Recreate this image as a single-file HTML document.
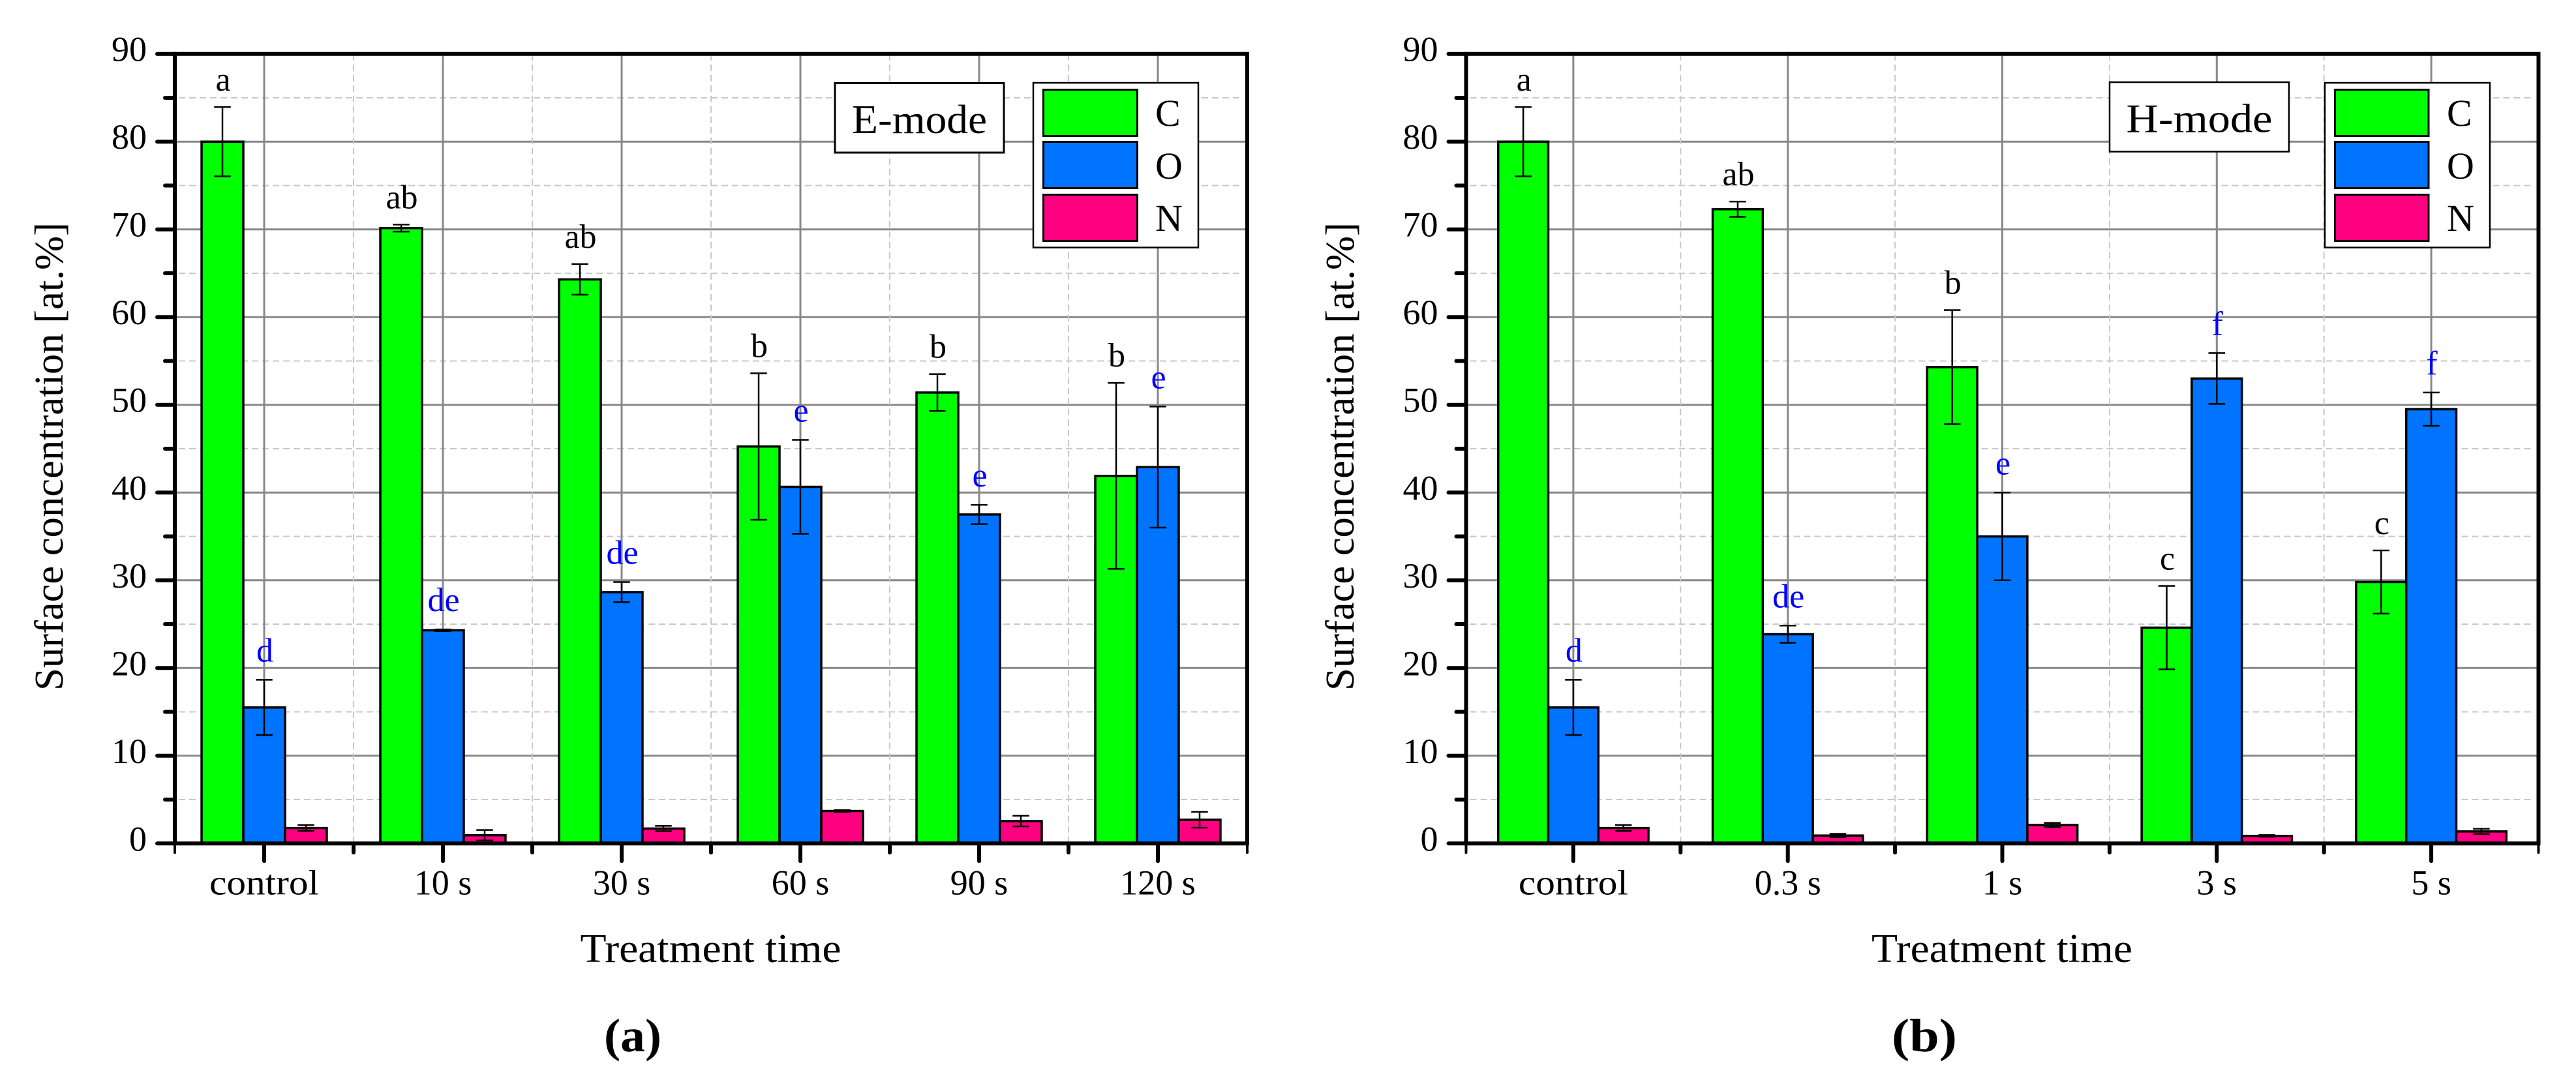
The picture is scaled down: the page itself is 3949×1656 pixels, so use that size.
<!DOCTYPE html>
<html lang="en">
<head>
<meta charset="utf-8">
<title>Surface concentration vs treatment time</title>
<style>
html,body{margin:0;padding:0;background:#fff;}
svg{display:block;}
text{font-family:"Liberation Serif",serif;fill:#000;}
</style>
</head>
<body>
<svg id="figure" xmlns="http://www.w3.org/2000/svg" width="3949" height="1656" viewBox="0 0 3949 1656">
  <rect x="0" y="0" width="3949" height="1656" fill="#fff"/>

  <g id="panel-a"></g>
  <g>
    <rect x="1280" y="127.5" width="259" height="106.5" fill="#fff" stroke="#000" stroke-width="3"/>
    <text x="1306" y="204" font-size="62" textLength="207" lengthAdjust="spacingAndGlyphs">E-mode</text>
  </g>
  <g>
    <rect x="1584" y="127" width="253" height="252.5" fill="#fff" stroke="#000" stroke-width="2.5"/>
    <rect x="1599.5" y="137.5" width="144" height="71" fill="#00ff00" stroke="#000" stroke-width="3"/>
    <rect x="1599.5" y="217.5" width="144" height="71" fill="#0073ff" stroke="#000" stroke-width="3"/>
    <rect x="1599.5" y="298.5" width="144" height="71" fill="#ff0080" stroke="#000" stroke-width="3"/>
    <text x="1771" y="193" font-size="58">C</text>
    <text x="1771" y="274" font-size="58">O</text>
    <text x="1771" y="354" font-size="58">N</text>
  </g>

  <g id="panel-b"></g>
  <g>
    <rect x="3234" y="126" width="275" height="106.5" fill="#fff" stroke="#000" stroke-width="2.5"/>
    <text x="3259.5" y="202.5" font-size="62" textLength="224" lengthAdjust="spacingAndGlyphs">H-mode</text>
  </g>
  <g>
    <rect x="3564" y="127" width="253" height="252.5" fill="#fff" stroke="#000" stroke-width="2.5"/>
    <rect x="3579.5" y="137.5" width="143.5" height="71" fill="#00ff00" stroke="#000" stroke-width="3"/>
    <rect x="3579.5" y="217.5" width="143.5" height="71" fill="#0073ff" stroke="#000" stroke-width="3"/>
    <rect x="3579.5" y="298.5" width="143.5" height="71" fill="#ff0080" stroke="#000" stroke-width="3"/>
    <text x="3751" y="193" font-size="58">C</text>
    <text x="3751" y="274" font-size="58">O</text>
    <text x="3751" y="354" font-size="58">N</text>
  </g>

  <text x="926" y="1612" font-size="72" font-weight="bold" textLength="88" lengthAdjust="spacingAndGlyphs">(a)</text>
  <text x="2900" y="1612" font-size="72" font-weight="bold" textLength="100" lengthAdjust="spacingAndGlyphs">(b)</text>
</svg>

<script>
// Shared axis values
const yMajorTicks = [0, 10, 20, 30, 40, 50, 60, 70, 80, 90];
const yMinorTicks = [5, 15, 25, 35, 45, 55, 65, 75, 85];
const seriesNames = ['c', 'o', 'n'];

// Panel (a) E-mode
const categoriesA = ['control', '10 s', '30 s', '60 s', '90 s', '120 s'];
const carbonA = [80.0, 70.15, 64.3, 45.25, 51.4, 41.9];
const oxygenA = [15.5, 24.3, 28.65, 40.65, 37.5, 42.9];
const nitrogenA = [1.76, 0.94, 1.7, 3.7, 2.55, 2.7];
const carbonErrorA = [3.95, 0.4, 1.75, 8.35, 2.1, 10.6];
const oxygenErrorA = [3.15, 0.1, 1.15, 5.35, 1.1, 6.9];
const nitrogenErrorA = [0.33, 0.6, 0.3, 0.1, 0.6, 0.9];
const carbonLettersA = ['a', 'ab', 'ab', 'b', 'b', 'b'];
const oxygenLettersA = ['d', 'de', 'de', 'e', 'e', 'e'];

// Panel (b) H-mode
const categoriesB = ['control', '0.3 s', '1 s', '3 s', '5 s'];
const carbonB = [80.0, 72.3, 54.3, 24.6, 29.8];
const oxygenB = [15.5, 23.85, 35.0, 53.0, 49.5];
const nitrogenB = [1.76, 0.9, 2.1, 0.86, 1.37];
const carbonErrorB = [3.95, 0.87, 6.5, 4.75, 3.6];
const oxygenErrorB = [3.15, 0.98, 5.0, 2.9, 1.9];
const nitrogenErrorB = [0.33, 0.2, 0.25, 0.1, 0.3];
const carbonLettersB = ['a', 'ab', 'b', 'c', 'c'];
const oxygenLettersB = ['d', 'de', 'e', 'f', 'f'];

const SVG_NS = 'http://www.w3.org/2000/svg';

function svgEl(parent, tag, attrs, content) {
  const el = document.createElementNS(SVG_NS, tag);
  for (const key in attrs) {
    el.setAttribute(key, attrs[key]);
  }
  if (content !== undefined) {
    el.textContent = content;
  }
  parent.appendChild(el);
  return el;
}

function drawPanel(root, cfg) {
  const fills = ['#00ff00', '#0073ff', '#ff0080'];
  const top = 82.7;
  const bottom = 1293.3;
  const yMax = 90;
  const yScale = function (v) { return bottom - (v / yMax) * (bottom - top); };
  const step = (cfg.right - cfg.left) / cfg.categories.length;
  const centerX = function (i) { return cfg.left + step * (i + 0.5); };
  const barWidth = step * 0.2335;
  const barX = function (i, s) { return centerX(i) + (s - 1.5) * barWidth; };

  // Grid
  yMinorTicks.forEach(function (v) {
    const el = svgEl(root, 'line', {x1: cfg.left + 6, x2: cfg.right - 6, y1: yScale(v), y2: yScale(v), stroke: '#c8c8c8', 'stroke-width': 2, 'stroke-dasharray': '10 6'});
    
    
  });
  yMajorTicks.forEach(function (v) {
    if (v === 0 || v === yMax) return;
    const el = svgEl(root, 'line', {x1: cfg.left, x2: cfg.right, y1: yScale(v), y2: yScale(v), stroke: '#888888', 'stroke-width': 3});
    
    
  });
  cfg.categories.forEach(function (c, i) {
    const major = svgEl(root, 'line', {x1: centerX(i), x2: centerX(i), y1: top, y2: bottom, stroke: '#888888', 'stroke-width': 3});
    
    
    if (i > 0) {
      const gx = cfg.left + step * i;
      const minor = svgEl(root, 'line', {x1: gx, x2: gx, y1: top, y2: bottom, stroke: '#c8c8c8', 'stroke-width': 2, 'stroke-dasharray': '10 6'});
      
      
    }
  });

  // Bars
  cfg.series.forEach(function (values, s) {
    values.forEach(function (v, i) {
      const bar = svgEl(root, 'rect', {x: barX(i, s), y: yScale(v), width: barWidth, height: bottom - yScale(v), fill: fills[s], stroke: '#000', 'stroke-width': 3.5});
      
      
    });
  });

  // Error bars
  cfg.errors.forEach(function (errs, s) {
    errs.forEach(function (e, i) {
      const v = cfg.series[s][i];
      const cx = barX(i, s) + barWidth / 2;
      const hi = yScale(v + e);
      const lo = yScale(v - e);
      const d = 'M' + cx + ' ' + hi + 'V' + lo + 'M' + (cx - 12.75) + ' ' + hi + 'H' + (cx + 12.75) + 'M' + (cx - 12.75) + ' ' + lo + 'H' + (cx + 12.75);
      const err = svgEl(root, 'path', {d: d, fill: 'none', stroke: '#000', 'stroke-width': 2.5});
      
      
    });
  });

  // Significance letters
  cfg.letters.forEach(function (letters, s) {
    letters.forEach(function (t, i) {
      const v = cfg.series[s][i];
      const e = cfg.errors[s][i];
      const cx = barX(i, s) + barWidth / 2;
      const gap = s === 0 ? 25 : 28;
      const label = svgEl(root, 'text', {x: cx + 1, y: yScale(v + e) - gap, 'font-size': 52, 'text-anchor': 'middle', style: s === 0 ? 'fill:#000' : 'fill:#0000ff'}, t);
      
      
    });
  });

  // Axis frame
  const frame = svgEl(root, 'rect', {x: cfg.left, y: top, width: cfg.right - cfg.left, height: bottom - top, fill: 'none', stroke: '#000', 'stroke-width': 6});
  
  

  // Y ticks and labels
  yMajorTicks.forEach(function (v) {
    const tick = svgEl(root, 'line', {x1: cfg.left - 27, x2: cfg.left, y1: yScale(v), y2: yScale(v), stroke: '#000', 'stroke-width': 6, 'stroke-linecap': 'round'});
    
    
    const label = svgEl(root, 'text', {x: cfg.left - 43, y: yScale(v) + 11, 'font-size': 54, 'text-anchor': 'end'}, String(v));
    
    
  });
  yMinorTicks.forEach(function (v) {
    const tick = svgEl(root, 'line', {x1: cfg.left - 15, x2: cfg.left, y1: yScale(v), y2: yScale(v), stroke: '#000', 'stroke-width': 6, 'stroke-linecap': 'round'});
    
    
  });

  // X ticks and labels
  cfg.categories.forEach(function (c, i) {
    const tick = svgEl(root, 'line', {x1: centerX(i), x2: centerX(i), y1: bottom, y2: bottom + 27, stroke: '#000', 'stroke-width': 6, 'stroke-linecap': 'round'});
    
    
    const label = svgEl(root, 'text', {x: centerX(i), y: 1371.5, 'font-size': 54, 'text-anchor': 'middle'}, c);
    
    
    if (/[a-z]{2}/.test(c)) {
      label.setAttribute('textLength', label.getComputedTextLength() * 1.098);
      label.setAttribute('lengthAdjust', 'spacingAndGlyphs');
    }
  });
  cfg.categories.concat(['end']).forEach(function (c, i) {
    const gx = cfg.left + step * i;
    const tick = svgEl(root, 'line', {x1: gx, x2: gx, y1: bottom, y2: bottom + 14, stroke: '#000', 'stroke-width': (i === 0 || i === cfg.categories.length) ? 4 : 6, 'stroke-linecap': 'round'});
    
    
  });

  // Axis titles
  const yTitle = svgEl(root, 'text', {x: 0, y: 0, 'font-size': 62, transform: 'translate(' + cfg.yTitleX + ' 1059) rotate(-90)', textLength: 718, lengthAdjust: 'spacingAndGlyphs'}, 'Surface concentration [at.%]');
  
  
  const xTitle = svgEl(root, 'text', {x: cfg.xTitleX, y: 1475, 'font-size': 62, textLength: 400, lengthAdjust: 'spacingAndGlyphs'}, 'Treatment time');
  
  
}

drawPanel(document.getElementById('panel-a'), {
  left: 268, right: 1912, yTitleX: 96, xTitleX: 889.5,
  categories: categoriesA,
  series: [carbonA, oxygenA, nitrogenA],
  errors: [carbonErrorA, oxygenErrorA, nitrogenErrorA],
  letters: [carbonLettersA, oxygenLettersA]
});
drawPanel(document.getElementById('panel-b'), {
  left: 2247.5, right: 3891.5, yTitleX: 2075, xTitleX: 2869,
  categories: categoriesB,
  series: [carbonB, oxygenB, nitrogenB],
  errors: [carbonErrorB, oxygenErrorB, nitrogenErrorB],
  letters: [carbonLettersB, oxygenLettersB]
});
</script>
</body>
</html>
